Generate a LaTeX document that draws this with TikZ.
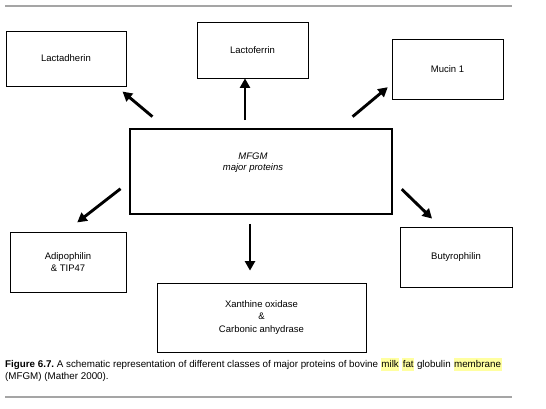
\documentclass[tikz,border=0pt]{standalone}
\usepackage{fontspec}
\setmainfont{Liberation Sans}
\usepackage{xcolor}
\usepackage{tikz}
\usetikzlibrary{arrows.meta}

\definecolor{hlyellow}{RGB}{255,255,160}
\definecolor{rulegray}{RGB}{165,165,165}
\newcommand{\hlword}[1]{{\setlength{\fboxsep}{0.6pt}\colorbox{hlyellow}{\strut #1}}}

\begin{document}
\begin{tikzpicture}[
    x=1pt, y=-1pt,
    protein/.style={draw, line width=0.8pt, align=center, inner sep=0pt, font=\fontsize{9.5}{12.5}\selectfont},
    hub/.style={draw, line width=1.6pt, minimum width=262pt, minimum height=85pt, inner sep=0pt},
    arrow/.style={-{Triangle[length=9.5pt, width=10pt]}, line width=2.9pt},
    rule/.style={draw=rulegray, line width=1.5pt}
]
\useasboundingbox (0,0) rectangle (546,408);
\draw[rule] (5,6) -- (512,6);
\draw[rule] (5,397) -- (512,397);
\node[protein, minimum width=120pt, minimum height=55pt] (lactadherin) at (66,58.5) {Lactadherin};
\node[protein, minimum width=111pt, minimum height=56pt] (lactoferrin) at (252.5,50) {Lactoferrin};
\node[protein, minimum width=111pt, minimum height=60pt] (mucin) at (447.5,69) {Mucin 1};
\node[hub] (mfgm) at (261,171.5) {};
\node[font=\fontsize{9.5}{11}\selectfont\itshape, align=center] (mfgmtext) at (253,162.5) {MFGM\\major proteins};
\node[protein, minimum width=116pt, minimum height=60pt] (adipophilin) at (68,262) {Adipophilin\\\& TIP47};
\node[protein, minimum width=112pt, minimum height=60pt] (butyrophilin) at (456,257) {Butyrophilin};
\node[protein, minimum width=209pt, minimum height=69pt] (xanthine) at (261.5,317.5) {Xanthine oxidase\\\&\\Carbonic anhydrase};
\draw[arrow, shorten <=18pt, shorten >=8pt] ([xshift=37pt]mfgm.north west) -- ([xshift=-10pt]lactadherin.south east);
\draw[arrow, shorten <=8pt] ([xshift=-16pt]mfgm.north) -- ([xshift=-7.5pt]lactoferrin.south);
\draw[arrow, shorten <=18pt, shorten >=5pt] ([xshift=-54pt]mfgm.north east) -- ([yshift=-15pt]mucin.west);
\draw[arrow, shorten <=11pt, shorten >=15pt] ([yshift=-10.5pt]mfgm.west) -- ([xshift=-2.6pt]adipophilin.north);
\draw[arrow, shorten <=9pt, shorten >=12pt] ([xshift=-11pt]mfgm.south) -- ([xshift=-11.5pt]xanthine.north);
\draw[arrow, shorten <=12.5pt, shorten >=11.5pt] ([yshift=-9pt]mfgm.east) -- ([xshift=-15.7pt]butyrophilin.north);
\node[anchor=north west, inner sep=0pt, align=left, font=\fontsize{9.8}{12}\selectfont] (caption) at (5,358)
  {\textbf{Figure 6.7.}\ A schematic representation of different classes of major proteins of bovine \hlword{milk} \hlword{fat} globulin \hlword{membrane}\\(MFGM) (Mather 2000).};
\end{tikzpicture}
\end{document}
